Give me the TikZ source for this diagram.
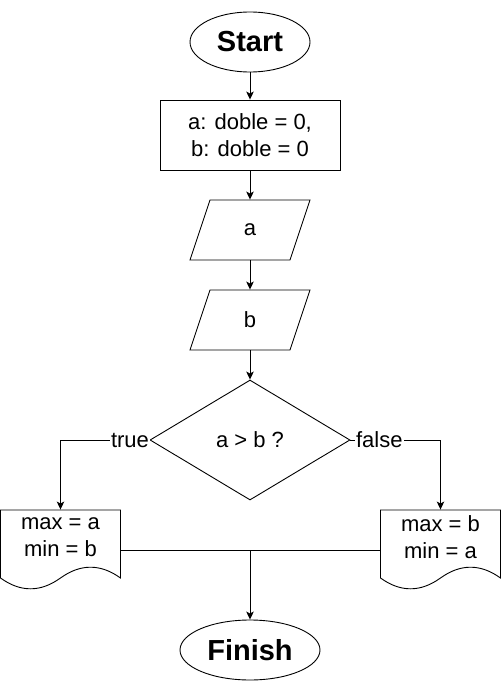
\documentclass[tikz,border=0pt]{standalone}
\usepackage{fontspec}
\setmainfont{Liberation Sans}
\usetikzlibrary{arrows.meta, shapes.geometric, calc}

\begin{document}
\begin{tikzpicture}[
    x=1pt, y=-1pt,
    every node/.style={font=\fontsize{22}{27}\selectfont, inner sep=0pt},
    terminal/.style={draw, ellipse, minimum width=120pt, minimum height=60pt,
        font=\fontsize{29}{34}\selectfont\bfseries},
    process/.style={draw, rectangle, minimum width=180pt, minimum height=70pt, align=center},
    inout/.style={minimum width=100pt, minimum height=60pt},
    decision/.style={draw, diamond, minimum width=200pt, minimum height=120pt},
    docbox/.style={minimum width=120pt, minimum height=80pt},
    branch/.style={fill=white, inner sep=1pt},
    flow/.style={-{Stealth[length=8pt, width=7.5pt, inset=2pt]}},
    line width=0.9pt,
]

% ---------------------------------------------------------------- frame
%   1pt = 1px of the 501 x 691 picture, y grows downwards
\useasboundingbox (0,0) rectangle (501,691);

% ---------------------------------------------------------------- outlines
% parallelogram leaning right; #1 is the node that holds it
\newcommand{\ioline}[1]{%
    \draw ($(#1)+(-40,-30)$) -- ($(#1)+(60,-30)$) -- ($(#1)+(40,30)$)
        -- ($(#1)+(-60,30)$) -- cycle;}
% flat top, wavy bottom
\newcommand{\docoutline}[1]{%
    \draw ($(#1)+(-60,-40)$) -- ($(#1)+(60,-40)$) -- ($(#1)+(60,28)$)
        .. controls ($(#1)+(40,13.6)$) and ($(#1)+(20,13.6)$) .. ($(#1)+(0,28)$)
        .. controls ($(#1)+(-20,42.4)$) and ($(#1)+(-40,42.4)$) .. ($(#1)+(-60,28)$)
        -- cycle;}

% ================================================================
% column  x = 250
% rows    y = 42, 135, 230, 320, 440, 550, 650
% ================================================================

\node[terminal] (start) at (250,42) {Start};
\node[process] (init) at (250,135) {a: doble = 0,\\b: doble = 0};
\node[inout] (ina) at (250,230) {a};
\node[inout] (inb) at (250,320) {b};
\ioline{ina}
\ioline{inb}
\node[decision] (cmp) at (250,440) {a > b ?};

% the two results
\node[docbox, label={[yshift=13pt, align=center]center:max = a\\min = b}] (docL) at (60.5,550) {};
\node[docbox, label={[yshift=13pt, align=center]center:max = b\\min = a}] (docR) at (440.5,550) {};
\docoutline{docL}
\docoutline{docR}

\node[terminal, minimum width=140pt] (finish) at (250,650) {Finish};

% straight down the column
\draw[flow] (start) -- (init);
\draw[flow] (init) -- (ina);
\draw[flow] (ina) -- (inb);
\draw[flow] (inb) -- (cmp);

% the two branches
\draw[flow] (cmp.west) -| node[branch, pos=0.11] {true} (docL.north);
\draw[flow] (cmp.east) -| node[branch, pos=0.16] {false} (docR.north);

% both results join and go on to the end
\coordinate (join) at (250,550);
\draw (docL.east) -- (docR.west);
\draw[flow] (join) -- (finish);

\end{tikzpicture}
\end{document}
